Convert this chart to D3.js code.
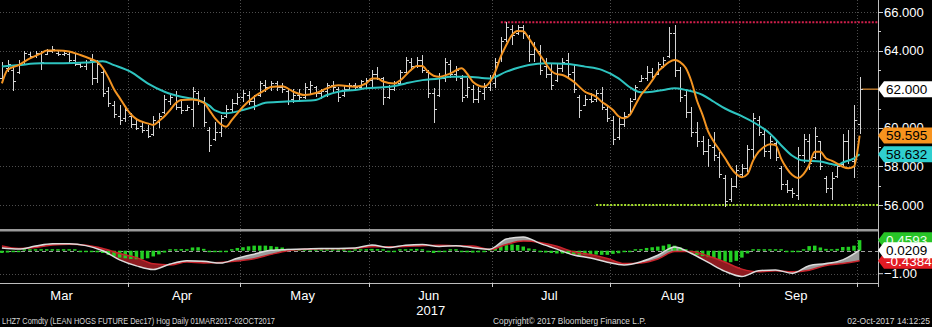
<!DOCTYPE html>
<html><head><meta charset="utf-8">
<script src="https://cdn.jsdelivr.net/npm/d3@7"></script>
<style>html,body{margin:0;padding:0;background:#000;overflow:hidden}</style>
</head><body><svg id="c" width="932" height="327"></svg>
<script>
// ---- DATA (LHZ7 Comdty, daily, 01MAR2017-02OCT2017) ----
const firstDay = "2017-03-01", lastDay = "2017-10-02";
const openP = [62.6,63.1,63.0,62.9,63.4,63.8,63.7,63.9,63.8,64.0,63.9,63.8,63.8,63.5,63.3,63.2,63.5,62.6,62.9,61.9,61.2,60.6,60.5,
60.6,60.2,60.1,59.9,59.7,60.3,60.8,61.4,61.7,61.1,60.9,61.0,61.8,61.4,59.9,59.4,59.8,60.6,61.0,61.3,
61.6,61.7,61.4,61.7,62.2,62.1,62.3,62.1,61.9,61.5,61.7,61.6,62.0,62.1,61.8,61.9,62.2,62.0,61.7,62.0,62.2,62.1,62.3,
62.5,62.8,62.6,61.6,62.0,62.3,62.9,63.4,63.2,63.5,62.9,61.8,61.7,62.6,63.3,62.8,62.6,61.7,62.0,61.5,61.8,62.1,
62.3,63.6,64.6,65.1,64.9,65.2,64.7,63.8,64.0,63.2,62.8,62.5,63.1,63.5,62.9,61.6,61.2,61.5,61.5,61.8,61.0,
60.4,59.5,60.2,60.7,61.5,62.4,62.6,62.9,62.8,63.2,63.7,64.9,63.0,61.7,60.8,59.8,59.3,58.8,59.0,58.5,57.4,56.3,57.0,
57.6,57.9,58.9,60.4,59.7,58.8,59.2,57.9,57.1,56.8,56.5,58.6,59.3,58.5,59.3,57.4,56.9,57.5,58.1,59.3,58.3,
60.2];
const highP = [63.4,63.5,63.2,63.5,64.0,63.95,64.0,64.0,64.1,64.25,64.0,64.0,63.95,63.8,63.4,63.5,63.8,63.5,63.0,62.1,61.4,61.2,61.1,
60.75,60.5,60.3,60.15,60.6,60.75,61.7,61.8,61.9,61.4,61.2,62.1,61.9,61.6,60.05,60.3,60.66,61.18,61.5,61.8,
61.96,61.9,61.7,62.4,62.48,62.4,62.45,62.3,62.05,62.0,62.0,62.3,62.4,62.15,62.0,62.3,62.4,62.1,62.2,62.3,62.3,62.5,62.6,
63.0,63.17,62.65,62.2,62.4,63.0,63.68,63.6,63.68,63.77,63.0,62.05,62.82,63.6,63.5,63.2,62.74,62.56,62.22,62.13,62.3,62.74,
63.6,64.72,65.5,65.33,65.33,65.33,64.81,64.46,64.29,63.6,63.34,63.34,63.6,63.86,63.25,61.7,61.7,61.79,61.96,62.13,61.18,
60.6,60.49,60.83,61.53,62.22,62.74,63.2,63.08,63.43,63.69,65.24,65.33,63.17,61.96,61.1,60.3,59.6,59.4,59.8,58.76,57.55,57.4,58.07,
58.1,59.1,60.75,60.6,59.9,59.6,59.3,58.0,57.3,56.9,59.0,59.7,59.7,60.05,59.3,57.5,57.7,58.2,59.7,59.9,61.2,
62.65];
const lowP = [62.4,62.9,61.9,62.8,63.3,63.6,63.6,63.0,63.75,63.9,63.7,63.7,63.3,63.2,63.1,63.0,62.2,62.3,61.6,61.1,60.5,60.15,60.3,
59.97,59.9,59.75,59.45,59.55,59.97,60.7,61.2,60.9,60.7,60.85,60.05,61.2,60.06,58.75,59.3,59.54,60.49,60.75,61.18,
61.35,61.2,60.92,61.6,61.87,61.9,61.9,61.8,61.18,61.3,61.4,61.5,61.7,61.6,61.5,61.6,61.8,61.35,61.6,61.9,61.95,61.95,62.0,
62.13,62.48,61.18,61.5,61.9,62.2,62.82,63.0,63.1,62.82,61.52,60.23,61.61,62.39,62.6,62.4,61.35,61.53,61.27,61.27,61.44,61.9,
62.05,63.43,64.46,64.3,64.81,64.6,63.43,63.43,62.74,62.56,61.96,62.39,62.91,62.56,61.79,60.49,61.18,61.27,61.35,60.92,60.32,
59.11,59.37,60.06,60.66,61.44,62.39,62.4,62.56,62.74,63.08,63.6,62.65,61.35,60.5,59.5,59.0,58.6,57.97,58.3,57.4,55.9,56.17,56.9,
57.45,57.7,58.4,59.6,58.5,58.4,58.3,56.8,56.6,56.35,56.25,58.2,57.8,58.4,57.8,56.6,56.25,57.4,57.97,58.1,57.4,
59.7];
const closeP = [63.2,63.3,62.4,63.3,63.9,63.7,63.9,63.4,64.0,64.1,63.8,63.9,63.5,63.3,63.2,63.4,62.6,63.3,61.8,61.3,60.7,60.4,60.9,
60.2,60.0,59.9,59.6,60.4,60.6,61.5,61.6,61.1,60.9,61.1,61.9,61.4,60.3,59.1,59.8,60.5,61.0,61.3,61.6,
61.8,61.4,61.2,62.3,62.1,62.3,62.1,62.0,61.4,61.7,61.6,62.1,62.2,61.8,61.9,62.2,62.1,61.6,62.0,62.2,62.1,62.4,62.5,
62.8,62.6,61.6,62.0,62.3,62.9,63.5,63.2,63.5,63.0,61.8,61.0,62.6,63.4,62.8,63.0,61.6,62.1,61.5,61.9,62.1,62.6,
63.4,64.5,65.2,64.8,65.2,64.9,63.8,64.1,63.0,62.8,62.2,63.1,63.4,62.8,62.0,60.9,61.5,61.4,61.8,61.1,60.5,
59.4,60.2,60.6,61.4,62.1,62.6,62.9,62.7,63.3,63.5,64.9,63.0,61.6,60.8,59.8,59.3,58.8,59.1,58.6,57.6,56.2,57.0,57.8,
57.9,58.9,60.5,59.8,58.8,59.3,58.5,57.1,56.8,56.6,58.6,59.4,58.2,59.6,58.0,56.9,57.4,58.0,59.3,58.4,60.4,
62.0];
// moving averages: [trading-day number, value]
const fastMA = [[0,62.3],[1,63.0],[3,63.25],[5,63.6],[7,63.86],[8,64.0],[10,64.0],[12,63.95],[14,63.77],[16,63.55],[17,63.42],[18,63.1],[19,62.6],[20,62.0],[21,61.55],[22,61.1],[23,60.7],[24,60.45],[26,60.23],[27,60.15],[28,60.35],[29,60.6],[30,60.92],[31,61.27],[32,61.44],[34,61.46],[36,61.3],[37,60.92],[38,60.5],[39,60.2],[40,60.06],[41,60.4],[42,60.75],[43,61.09],[45,61.61],[47,61.96],[48,62.12],[50,62.15],[52,61.87],[54,61.7],[56,61.8],[58,62.05],[60,62.2],[63,62.13],[65,62.3],[66,62.55],[67,62.55],[68,62.4],[70,62.3],[71,62.45],[73,63.0],[74,63.2],[75,63.2],[76,62.9],[77,62.7],[78,62.65],[80,62.82],[82,63.08],[83,62.8],[84,62.39],[86,62.13],[87,62.35],[88,62.9],[89,63.7],[90,64.3],[91,64.81],[92,65.02],[93,65.0],[94,64.63],[95,64.2],[96,63.77],[97,63.34],[98,62.95],[99,62.78],[100,62.74],[102,62.39],[104,61.87],[106,61.61],[107,61.35],[108,61.15],[109,60.92],[110,60.6],[111,60.49],[112,60.66],[113,61.18],[114,61.7],[115,62.05],[116,62.45],[117,62.9],[118,63.17],[119,63.4],[120,63.51],[121,63.4],[122,63.1],[123,62.4],[124,61.4],[125,60.66],[126,59.8],[127,59.28],[128,58.85],[129,58.42],[130,57.95],[131,57.6],[132,57.44],[133,57.6],[134,58.3],[135,58.76],[136,59.02],[137,59.15],[138,59.1],[139,58.4],[140,57.9],[141,57.55],[142,57.4],[143,57.6],[144,58.07],[145,58.76],[146,58.76],[147,58.42],[148,58.3],[149,58.15],[150,57.98],[151,57.9],[152,58.0],[153,59.595]];
const slowMA = [[0,63.17],[3,63.25],[7,63.34],[11,63.34],[15,63.38],[18,63.45],[20,63.25],[23,62.9],[26,62.3],[29,61.87],[32,61.61],[35,61.44],[37,61.15],[38,60.9],[40,60.75],[43,60.92],[45,61.09],[47,61.3],[50,61.35],[53,61.39],[56,61.44],[58,61.7],[60,61.87],[63,61.96],[65,62.05],[68,62.1],[70,62.17],[72,62.3],[75,62.47],[78,62.55],[80,62.65],[83,62.65],[87,62.56],[90,62.91],[94,63.25],[97,63.34],[101,63.3],[104,63.17],[107,63.0],[110,62.56],[112,62.1],[114,61.84],[116,61.87],[118,61.96],[120,62.05],[122,61.96],[125,61.7],[127,61.35],[129,61.0],[132,60.6],[134,60.3],[137,59.7],[139,59.1],[141,58.55],[143,58.3],[146,58.25],[148,58.12],[149,58.07],[150,58.2],[152,58.42],[153,58.632]];
const resistanceLevel = 65.47, resistanceFrom = 89;
const supportLevel = 56.0, supportFrom = 106;
const lastPrice = 62.0;
const priceTicks = [56,58,60,62,64,66];
// MACD panel
const macdDays = [0,3,6,9,12,15,18,21,24,27,30,33,36,39,42,45,48,51,54,57,60,63,66,69,72,75,78,81,84,87,90,93,96,99,102,105,108,111,114,117,120,123,126,129,132,135,138,141,144,147,150,153];
const macdVals = [0.12,0.07,0.20,0.30,0.30,0.22,0.0,-0.40,-0.66,-0.82,-0.58,-0.44,-0.46,-0.54,-0.33,-0.15,0.02,0.05,0.07,0.10,0.10,0.12,0.25,0.14,0.24,0.27,0.18,0.22,0.13,0.06,0.51,0.60,0.32,0.07,-0.19,-0.32,-0.50,-0.62,-0.48,-0.20,0.16,-0.12,-0.51,-0.90,-1.12,-0.87,-0.84,-0.98,-0.65,-0.56,-0.40,0.0209];
const signalVals = [0.21,0.10,0.14,0.25,0.28,0.24,0.10,-0.12,-0.30,-0.57,-0.62,-0.49,-0.53,-0.51,-0.45,-0.35,-0.16,0.0,0.06,0.09,0.09,0.10,0.17,0.17,0.18,0.22,0.24,0.21,0.20,0.05,0.27,0.42,0.36,0.19,-0.05,-0.17,-0.34,-0.56,-0.53,-0.36,-0.04,-0.04,-0.23,-0.50,-0.80,-0.92,-0.87,-0.92,-0.85,-0.64,-0.56,-0.4384];
const histVals = [-0.10,-0.08,-0.06,-0.03,0.03,0.05,0.06,0.06,0.05,0.05,0.04,0.03,0.02,0.01,-0.01,-0.02,-0.04,-0.07,-0.10,-0.18,-0.25,-0.30,-0.33,
-0.36,-0.37,-0.37,-0.33,-0.25,-0.16,-0.08,0.04,0.06,0.07,0.05,0.14,0.15,0.08,-0.02,-0.04,-0.03,-0.01,0.03,0.12,
0.15,0.19,0.22,0.22,0.22,0.20,0.17,0.14,0.08,0.03,0.02,0.01,0.01,0.0,0.01,0.01,0.0,0.01,0.0,-0.01,0.02,0.04,0.06,
0.08,0.07,0.02,-0.02,-0.03,0.04,0.06,0.07,0.08,0.05,-0.04,-0.10,-0.06,-0.02,0.0,0.01,-0.04,-0.07,-0.08,-0.07,-0.05,0.02,
0.10,0.18,0.24,0.27,0.25,0.18,0.10,0.02,-0.04,-0.08,-0.10,-0.12,-0.12,-0.13,-0.14,-0.18,-0.17,-0.15,-0.17,-0.18,-0.18,
-0.14,-0.11,-0.06,-0.02,0.03,0.07,0.12,0.15,0.18,0.22,0.28,0.22,0.14,0.05,-0.08,-0.18,-0.23,-0.28,-0.32,-0.40,-0.48,-0.50,-0.44,
-0.30,-0.12,0.03,0.05,0.04,0.06,0.03,0.0,-0.02,-0.06,-0.02,0.06,0.20,0.22,0.14,0.08,0.06,0.08,0.16,0.17,0.22,
0.4593];
const macdTicks = [-1];
const tags = {last:"62.000", fast:"59.595", slow:"58.632", hist:"0.4593", macd:"0.0209", signal:"-0.4384"};
const footerLeft = "LHZ7 Comdty (LEAN HOGS FUTURE  Dec17) Hog  Daily 01MAR2017-02OCT2017";
const footerMid = "Copyright\u00A9 2017 Bloomberg Finance L.P.";
const footerRight = "02-Oct-2017 14:12:25";

// ---- trading calendar (weekdays) ----
const parse = d3.timeParse("%Y-%m-%d");
const days = d3.timeDay.range(parse(firstDay), d3.timeDay.offset(parse(lastDay),1))
  .filter(d => d.getDay()!==0 && d.getDay()!==6);
const n = days.length;

// ---- layout ----
const svg = d3.select("#c");
const AX = 878;
const upperTop = 0, upperBot = 229, lowerTop = 231, lowerBot = 283;
const x = d3.scaleLinear().domain([0, n-1]).range([1.9, 859.6]);
const y = d3.scaleLinear().domain([56,66]).range([205,12]);
const ym = d3.scaleLinear().domain([-1,0]).range([273.7,250.7]);
const FONT = "'Liberation Sans', Arial, sans-serif";

svg.append("rect").attr("width",932).attr("height",327).attr("fill","#000");
const defs = svg.append("defs");
defs.append("clipPath").attr("id","cu").append("rect").attr("x",0).attr("y",upperTop).attr("width",AX).attr("height",upperBot-upperTop);
defs.append("clipPath").attr("id","cl").append("rect").attr("x",0).attr("y",lowerTop).attr("width",AX).attr("height",lowerBot-lowerTop);

const months = [];
days.forEach((d,i)=>{ if(i===0 || d.getMonth()!==days[i-1].getMonth()) months.push({i, m:d.getMonth(), d}); });
months.forEach((mo,k)=>{ mo.end = (k<months.length-1? months[k+1].i-1 : n-1); });

const grid = svg.append("g").attr("stroke","#4d4d4d").attr("stroke-width",1).attr("stroke-dasharray","1,2");
priceTicks.forEach(t=> grid.append("line").attr("x1",0).attr("x2",AX).attr("y1",Math.round(y(t))+0.5).attr("y2",Math.round(y(t))+0.5));
macdTicks.forEach(t=> grid.append("line").attr("x1",0).attr("x2",AX).attr("y1",Math.round(ym(t))+0.5).attr("y2",Math.round(ym(t))+0.5));
months.slice(1).forEach(mo=>{
  const xx = Math.round(x(mo.i-0.5))+0.5;
  grid.append("line").attr("x1",xx).attr("x2",xx).attr("y1",0).attr("y2",lowerBot);
});

// ---- upper panel ----
const up = svg.append("g").attr("clip-path","url(#cu)");
up.append("line").attr("x1",x(resistanceFrom)).attr("x2",AX).attr("y1",y(resistanceLevel)).attr("y2",y(resistanceLevel))
  .attr("stroke","#d21f4c").attr("stroke-width",2).attr("stroke-dasharray","2,1.5");
up.append("line").attr("x1",x(supportFrom)).attr("x2",AX).attr("y1",y(supportLevel)).attr("y2",y(supportLevel))
  .attr("stroke","#a4dc2c").attr("stroke-width",2).attr("stroke-dasharray","2,1.5");
up.append("line").attr("x1",x(n-1)+2).attr("x2",AX).attr("y1",y(lastPrice)).attr("y2",y(lastPrice))
  .attr("stroke","#b8782e").attr("stroke-width",1.5);

const bars = up.append("g").attr("stroke","#d4d4d4").attr("stroke-width",1).attr("shape-rendering","crispEdges");
days.forEach((d,i)=>{
  const xx = Math.round(x(i))+0.5;
  bars.append("line").attr("x1",xx).attr("x2",xx).attr("y1",y(highP[i])).attr("y2",y(lowP[i]));
  bars.append("line").attr("x1",xx-2.5).attr("x2",xx).attr("y1",Math.round(y(openP[i]))+0.5).attr("y2",Math.round(y(openP[i]))+0.5);
  bars.append("line").attr("x1",xx).attr("x2",xx+2.5).attr("y1",Math.round(y(closeP[i]))+0.5).attr("y2",Math.round(y(closeP[i]))+0.5);
});
const maLine = d3.line().x(d=>x(d[0])).y(d=>y(d[1])).curve(d3.curveMonotoneX);
up.append("path").attr("d",maLine(slowMA)).attr("fill","none").attr("stroke","#2ec4c0").attr("stroke-width",2);
up.append("path").attr("d",maLine(fastMA)).attr("fill","none").attr("stroke","#f39422").attr("stroke-width",2);

// ---- lower panel (MACD) ----
const lo = svg.append("g").attr("clip-path","url(#cl)");
const mPts = macdDays.map((d,k)=>({d, m:macdVals[k], s:signalVals[k]}));
const cv = d3.curveMonotoneX;
defs.append("clipPath").attr("id","belowMacd").append("path")
  .attr("d", d3.area().x(p=>x(p.d)).y0(p=>ym(p.m)).y1(lowerBot+5).curve(cv)(mPts));
defs.append("clipPath").attr("id","belowSig").append("path")
  .attr("d", d3.area().x(p=>x(p.d)).y0(p=>ym(p.s)).y1(lowerBot+5).curve(cv)(mPts));
lo.append("g").attr("clip-path","url(#belowMacd)").append("path")
  .attr("d", d3.area().x(p=>x(p.d)).y0(lowerTop-5).y1(p=>ym(p.s)).curve(cv)(mPts)).attr("fill","#9c9c9c");
lo.append("g").attr("clip-path","url(#belowSig)").append("path")
  .attr("d", d3.area().x(p=>x(p.d)).y0(lowerTop-5).y1(p=>ym(p.m)).curve(cv)(mPts)).attr("fill","#8e1b20");
lo.append("line").attr("x1",0).attr("x2",AX).attr("y1",Math.round(ym(0))+0.5).attr("y2",Math.round(ym(0))+0.5)
  .attr("stroke","#a0a0a0").attr("stroke-width",1).attr("stroke-dasharray","4,3");
lo.append("g").selectAll("rect").data(histVals).join("rect")
  .attr("x",(v,i)=>x(i)-1.75).attr("width",3.5)
  .attr("y",v=> v>=0 ? Math.min(ym(v), ym(0)-1.5) : ym(0))
  .attr("height",v=> Math.max(Math.abs(ym(v)-ym(0)),1.5))
  .attr("fill","#23cf23");
lo.append("path").attr("d", d3.line().x(p=>x(p.d)).y(p=>ym(p.s)).curve(cv)(mPts)).attr("fill","none").attr("stroke","#c8232b").attr("stroke-width",1.5);
lo.append("path").attr("d", d3.line().x(p=>x(p.d)).y(p=>ym(p.m)).curve(cv)(mPts)).attr("fill","none").attr("stroke","#dcdcdc").attr("stroke-width",1.5);

svg.append("rect").attr("x",0).attr("y",upperBot).attr("width",AX).attr("height",2.5).attr("fill","#9a9a9a");
svg.append("line").attr("x1",AX+0.5).attr("x2",AX+0.5).attr("y1",0).attr("y2",lowerBot+4).attr("stroke","#bdbdbd");
svg.append("line").attr("x1",0).attr("x2",AX).attr("y1",lowerBot+0.5).attr("y2",lowerBot+0.5).attr("stroke","#bdbdbd");

// ---- right axis ----
const ax = svg.append("g").attr("font-family",FONT).attr("font-size",13).attr("fill","#fff");
for (let v=56; v<=66; v+=1) {
  const yy = Math.round(y(v))+0.5;
  ax.append("line").attr("x1",AX).attr("x2",AX+(v%2===0?5:3)).attr("y1",yy).attr("y2",yy).attr("stroke","#d0d0d0");
}
// the last-price tag sits on its own tick label, so that label is carried by the tag
priceTicks.filter(t=>t!==lastPrice).forEach(t=> ax.append("text").attr("x",AX+6).attr("y",y(t)).attr("dy","0.36em").text(d3.format(".3f")(t)));
macdTicks.forEach(t=>{
  ax.append("line").attr("x1",AX).attr("x2",AX+5).attr("y1",ym(t)).attr("y2",ym(t)).attr("stroke","#d0d0d0");
  ax.append("text").attr("x",AX+6).attr("y",ym(t)).attr("dy","0.36em").text(d3.format(".2f")(t));
});

function tag(yc, txt, fill, col){
  const g = svg.append("g");
  g.append("path").attr("d",`M${AX},${yc} L${AX+6},${yc-8} L932,${yc-8} L932,${yc+8} L${AX+6},${yc+8} Z`).attr("fill",fill);
  g.append("text").attr("x",AX+8).attr("y",yc).attr("dy","0.36em").attr("font-family",FONT).attr("font-size",13.5)
    .attr("fill",col).text(txt);
}
tag(y(lastPrice), tags.last, "#ffffff", "#000");
tag(y(+tags.fast), tags.fast, "#f7931e", "#000");
tag(y(+tags.slow), tags.slow, "#2fcfcf", "#000");
tag(ym(+tags.hist), tags.hist, "#27c427", "#eaffea");
tag(ym(+tags.signal), tags.signal, "#e31b23", "#fff");
tag(ym(+tags.macd), tags.macd, "#ffffff", "#000");

// ---- x axis ----
const xa = svg.append("g").attr("font-family",FONT).attr("font-size",13).attr("fill","#fff").attr("text-anchor","middle");
const fmtM = d3.timeFormat("%b");
months.forEach((mo,k)=>{
  if (k>0) xa.append("line").attr("x1",Math.round(x(mo.i-0.5))+0.5).attr("x2",Math.round(x(mo.i-0.5))+0.5)
     .attr("y1",lowerBot).attr("y2",lowerBot+4).attr("stroke","#d0d0d0");
  if (mo.end - mo.i > 3) xa.append("text").attr("x",x((mo.i+mo.end)/2)-2).attr("y",300).text(fmtM(mo.d));
});
const junMo = months.find(mo=>mo.m===5);
xa.append("text").attr("x",x((junMo.i+junMo.end)/2)).attr("y",315).text(d3.timeFormat("%Y")(junMo.d));

const ft = svg.append("g").attr("font-family",FONT).attr("font-size",8.5).attr("fill","#d8d8d8");
ft.append("text").attr("x",2).attr("y",324).attr("textLength",273).attr("lengthAdjust","spacingAndGlyphs").text(footerLeft);
ft.append("text").attr("x",493).attr("y",324).attr("textLength",153).attr("lengthAdjust","spacingAndGlyphs").text(footerMid);
ft.append("text").attr("x",930).attr("y",324).attr("text-anchor","end").text(footerRight);
</script></body></html>
